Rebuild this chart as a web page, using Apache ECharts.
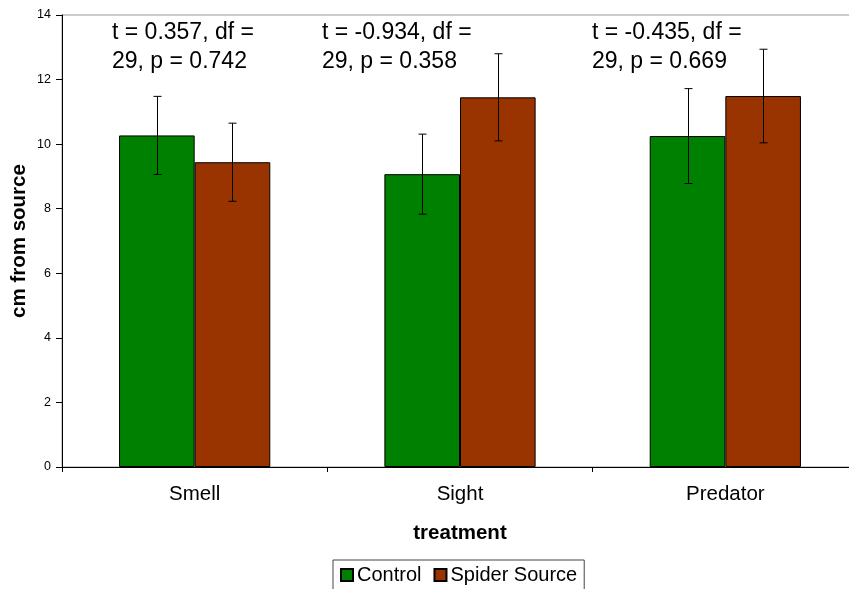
<!DOCTYPE html>
<html><head><meta charset="utf-8">
<script src="https://cdn.jsdelivr.net/npm/echarts@6/dist/echarts.min.js"></script>
<style>html,body{margin:0;padding:0;background:#fff;overflow:hidden;width:849px;height:589px}#c{width:870px;height:600px}</style>
</head><body><div id="c"></div>
<script>
const categories = ['Smell', 'Sight', 'Predator'];
const controlMeans = [10.27, 9.07, 10.25];
const controlErr = [1.21, 1.24, 1.47];
const spiderMeans = [9.44, 11.45, 11.49];
const spiderErr = [1.21, 1.35, 1.45];
const seriesNames = ['Control', 'Spider Source'];
const yTicks = [0, 2, 4, 6, 8, 10, 12, 14];
const annotations = [
  ['t = 0.357, df =', '29, p = 0.742'],
  ['t = -0.934, df =', '29, p = 0.358'],
  ['t = -0.435, df =', '29, p = 0.669']
];
const annotationLeft = [112, 322, 592];

const FONT = 'Liberation Sans, Arial, sans-serif';
const chart = echarts.init(document.getElementById('c'));
const BAR_FRAC = 0.285; // each bar's share of category width

function errSeries(name, means, errs, sideSign) {
  return {
    type: 'custom', name: name + ' err', silent: true, z: 10,
    data: means.map((m, i) => [i, m - errs[i], m + errs[i]]),
    renderItem: function (params, api) {
      const catW = api.size([1, 0])[0];
      const off = sideSign * catW * BAR_FRAC / 2;
      const lo = api.coord([api.value(0), api.value(1)]);
      const hi = api.coord([api.value(0), api.value(2)]);
      const x = Math.round(lo[0] + off) + 0.5;
      const cap = 4;
      const st = { stroke: '#000', lineWidth: 1 };
      return { type: 'group', children: [
        { type: 'line', shape: { x1: x, y1: lo[1], x2: x, y2: hi[1] }, style: st },
        { type: 'line', shape: { x1: x - cap, y1: lo[1], x2: x + cap, y2: lo[1] }, style: st },
        { type: 'line', shape: { x1: x - cap, y1: hi[1], x2: x + cap, y2: hi[1] }, style: st }
      ]};
    },
    tooltip: { show: false }
  };
}

const graphics = [];
annotations.forEach((a, i) => {
  graphics.push({ type: 'text', left: annotationLeft[i], top: 21,
    style: { text: a[0], font: '23px ' + FONT, fill: '#000' } });
  graphics.push({ type: 'text', left: annotationLeft[i], top: 50,
    style: { text: a[1], font: '23px ' + FONT, fill: '#000' } });
});

chart.setOption({
  animation: false,
  textStyle: { fontFamily: FONT },
  grid: { left: 62, top: 15, width: 796, height: 452, show: true, borderColor: '#999', borderWidth: 1,
    backgroundColor: 'transparent', containLabel: false, outerBoundsMode: 'none' },
  legend: {
    data: seriesNames, top: 560, left: 333,
    borderColor: '#444', borderWidth: 1, padding: [5, 7, 8, 7],
    itemWidth: 12, itemHeight: 12, itemGap: 12, icon: 'rect',
    textStyle: { fontSize: 20, color: '#000', fontFamily: FONT, padding: [0, 0, 0, -1] }
  },
  xAxis: {
    type: 'category', data: categories,
    name: 'treatment', nameLocation: 'middle', nameGap: 56, nameMoveOverlap: false,
    nameTextStyle: { fontSize: 20.5, fontWeight: 'bold', color: '#000', fontFamily: FONT },
    axisLine: { lineStyle: { color: '#000', width: 1 } },
    axisTick: { show: true, length: 5, lineStyle: { color: '#000' } },
    axisLabel: { fontSize: 20.5, color: '#000', margin: 17, fontFamily: FONT },
    splitLine: { show: false }
  },
  yAxis: {
    type: 'value', min: 0, max: 14, interval: 2,
    name: 'cm from source', nameLocation: 'middle', nameGap: 32, nameRotate: 90, nameMoveOverlap: false,
    nameTextStyle: { fontSize: 20.5, fontWeight: 'bold', color: '#000', fontFamily: FONT },
    axisLine: { show: true, lineStyle: { color: '#000', width: 1 } },
    axisTick: { show: true, length: 6, lineStyle: { color: '#000' } },
    axisLabel: { fontSize: 12.5, color: '#000', margin: 11, fontFamily: FONT,
      formatter: v => yTicks.includes(v) ? String(v) : '' },
    splitLine: { show: false }
  },
  series: [
    { type: 'bar', name: seriesNames[0], data: controlMeans, barGap: '0%', barCategoryGap: '43%',
      itemStyle: { color: '#008000', borderColor: '#000', borderWidth: 1 } },
    { type: 'bar', name: seriesNames[1], data: spiderMeans, barGap: '0%', barCategoryGap: '43%',
      itemStyle: { color: '#993300', borderColor: '#000', borderWidth: 1 } },
    errSeries(seriesNames[0], controlMeans, controlErr, -1),
    errSeries(seriesNames[1], spiderMeans, spiderErr, 1)
  ],
  graphic: graphics
});
</script></body></html>
